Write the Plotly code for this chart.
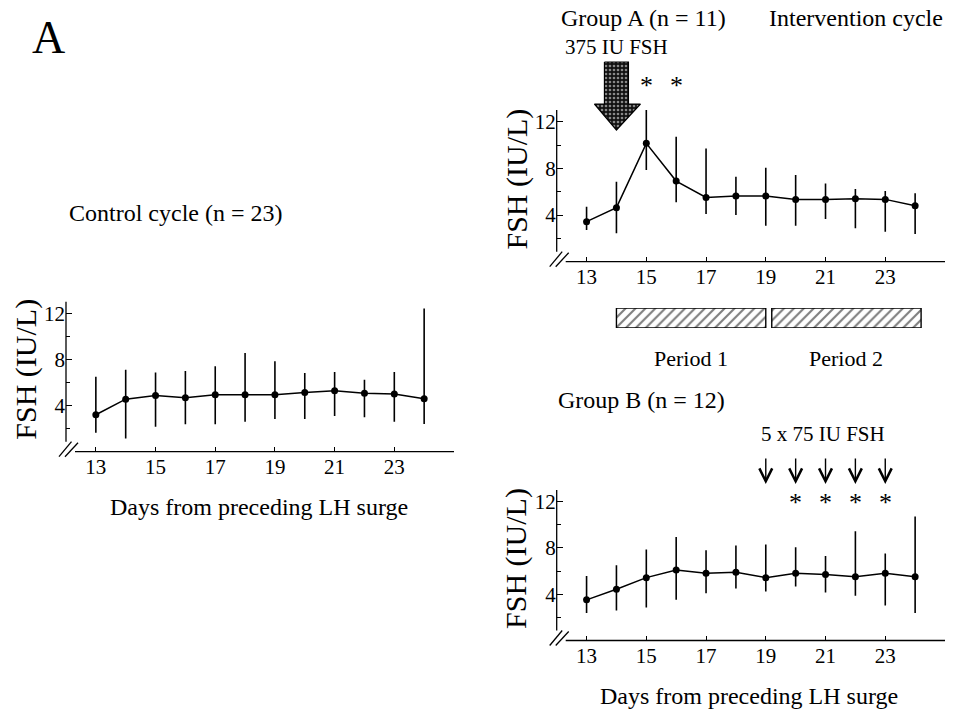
import plotly.graph_objects as go

# ---------------- data ----------------
days = list(range(13, 25))
tick_days = [13, 15, 17, 19, 21, 23]
y_ticks = [4, 8, 12]
y_minor = [2, 6, 10]

control_mean = [3.2, 4.55, 4.87, 4.67, 4.93, 4.93, 4.93, 5.13, 5.28, 5.07, 5.0, 4.58]
control_hi = [6.5, 7.1, 6.87, 7.0, 7.4, 8.56, 7.83, 6.82, 6.9, 6.24, 6.9, 12.4]
control_lo = [1.64, 1.15, 2.17, 2.37, 2.37, 2.6, 2.83, 2.83, 3.1, 2.98, 2.6, 2.4]

a_mean = [3.43, 4.63, 10.14, 6.91, 5.51, 5.63, 5.63, 5.34, 5.34, 5.4, 5.34, 4.8]
a_hi = [4.71, 6.86, 13.06, 10.71, 9.71, 7.29, 8.06, 7.43, 6.71, 6.23, 6.06, 5.86]
a_lo = [2.71, 2.43, 7.86, 5.09, 4.09, 4.0, 3.09, 3.09, 3.66, 2.86, 2.57, 2.37]

b_mean = [3.51, 4.43, 5.43, 6.09, 5.8, 5.89, 5.43, 5.8, 5.71, 5.51, 5.8, 5.51]
b_hi = [5.57, 6.51, 7.86, 8.94, 7.8, 8.2, 8.29, 8.06, 7.29, 9.43, 7.51, 10.71]
b_lo = [2.37, 2.6, 2.86, 3.51, 4.09, 4.49, 4.23, 4.66, 4.14, 3.86, 3.03, 2.37]

a_star_days = [15, 16]
a_dose_day = 14
b_star_days = [20, 21, 22, 23]
b_dose_days = [19, 20, 21, 22, 23]
periods = [(14, 19), (19.2, 24.2)]
period_labels = ["Period 1", "Period 2"]

# ---------------- layout helpers ----------------
W, H = 959, 713
FONT = "Liberation Serif, Times New Roman, serif"
XR = [12, 25]
YR = [0, 13]
CLEAR = "rgba(0,0,0,0)"


def X(px):
    return px / W


def Y(py):
    return 1 - py / H


# panel boxes in pixels: (left, right, top, bottom)
P_CTRL = (66, 454, 301.7, 451.7)
P_A = (556.7, 945, 110, 261.7)
P_B = (556.7, 945, 490, 640.5)

fig = go.Figure()


def add_series(mean, hi, lo, xa, ya):
    fig.add_trace(go.Scatter(
        x=days, y=mean, mode="lines+markers",
        line=dict(color="black", width=1.5),
        marker=dict(color="black", size=7),
        error_y=dict(type="data", symmetric=False,
                     array=[h - m for h, m in zip(hi, mean)],
                     arrayminus=[m - l for m, l in zip(mean, lo)],
                     color="black", thickness=1.6, width=0),
        xaxis=xa, yaxis=ya, showlegend=False, hoverinfo="skip", cliponaxis=False))


add_series(control_mean, control_hi, control_lo, "x", "y")
add_series(a_mean, a_hi, a_lo, "x2", "y2")
add_series(b_mean, b_hi, b_lo, "x3", "y3")


def xaxis_cfg(box, anchor):
    return dict(domain=[X(box[0]), X(box[1])], range=XR, anchor=anchor,
                tickvals=tick_days, ticks="inside", ticklen=5, tickwidth=1.2,
                tickcolor="black", showline=False, showgrid=False, zeroline=False,
                tickfont=dict(family=FONT, size=21, color="black"), fixedrange=True)


def yaxis_cfg(box, anchor):
    return dict(domain=[Y(box[3]), Y(box[2])], range=YR, anchor=anchor,
                tickvals=y_ticks, ticks="inside", ticklen=6, tickwidth=1.2,
                tickcolor="black",
                minor=dict(tickvals=y_minor, ticks="inside", ticklen=4,
                           tickwidth=1, tickcolor="black"),
                showline=False, showgrid=False, zeroline=False,
                tickfont=dict(family=FONT, size=21, color="black"), fixedrange=True)


# period bars (own axes aligned with group A x axis)
for (p0, p1) in periods:
    fig.add_trace(go.Scatter(
        x=[p0, p1, p1, p0, p0], y=[0, 0, 1, 1, 0], mode="lines",
        fill="toself", fillcolor="white",
        fillpattern=dict(shape="/", fgcolor="black", bgcolor="white",
                         size=7, solidity=0.3),
        line=dict(color="black", width=1.4),
        xaxis="x4", yaxis="y4", showlegend=False, hoverinfo="skip"))

# big arrow for the single 375 IU dose (pixel overlay axes)
ax_px = P_A[0] + (a_dose_day - XR[0]) / (XR[1] - XR[0]) * (P_A[1] - P_A[0])
arrow_x = [ax_px - 12, ax_px + 12, ax_px + 12, ax_px + 24, ax_px, ax_px - 22, ax_px - 12, ax_px - 12]
arrow_y = [62, 62, 104, 104, 130, 104, 104, 62]
fig.add_trace(go.Scatter(
    x=arrow_x, y=arrow_y, mode="lines", fill="toself", fillcolor="black",
    fillpattern=dict(shape=".", fgcolor="white", bgcolor="#111111", size=4, solidity=0.35),
    line=dict(color="black", width=1.2),
    xaxis="x5", yaxis="y5", showlegend=False, hoverinfo="skip"))

fig.update_layout(
    width=W, height=H, margin=dict(l=0, r=0, t=0, b=0),
    paper_bgcolor="white", plot_bgcolor=CLEAR,
    font=dict(family=FONT, color="black"),
    xaxis=xaxis_cfg(P_CTRL, "y"), yaxis=yaxis_cfg(P_CTRL, "x"),
    xaxis2=xaxis_cfg(P_A, "y2"), yaxis2=yaxis_cfg(P_A, "x2"),
    xaxis3=xaxis_cfg(P_B, "y3"), yaxis3=yaxis_cfg(P_B, "x3"),
    xaxis4=dict(domain=[X(P_A[0]), X(P_A[1])], range=XR, visible=False, anchor="y4", fixedrange=True),
    yaxis4=dict(domain=[Y(328), Y(308)], range=[0, 1], visible=False, anchor="x4", fixedrange=True),
    xaxis5=dict(domain=[0, 1], range=[0, W], visible=False, anchor="y5", fixedrange=True),
    yaxis5=dict(domain=[0, 1], range=[H, 0], visible=False, anchor="x5", fixedrange=True),
)

# axis lines with break marks
shapes = []
for (l, r, t, b) in (P_CTRL, P_A, P_B):
    lw = 1.3
    shapes.append(dict(type="line", xref="paper", yref="paper",
                       x0=X(l + 9), x1=X(r), y0=Y(b), y1=Y(b), line=dict(color="black", width=lw)))
    shapes.append(dict(type="line", xref="paper", yref="paper",
                       x0=X(l), x1=X(l), y0=Y(b - 10), y1=Y(t), line=dict(color="black", width=lw)))
    shapes.append(dict(type="line", xref="paper", yref="paper",
                       x0=X(l - 7), x1=X(l + 5.5), y0=Y(b + 5), y1=Y(b - 10), line=dict(color="black", width=lw)))
    shapes.append(dict(type="line", xref="paper", yref="paper",
                       x0=X(l - 1), x1=X(l + 12), y0=Y(b + 5), y1=Y(b - 9), line=dict(color="black", width=lw)))
fig.update_layout(shapes=shapes)

ann = []


def text(s, x, y, size, xref="paper", textangle=0, xanchor="center"):
    ann.append(dict(text=s, x=x, y=y, xref=xref, yref="paper", showarrow=False,
                    xanchor=xanchor, yanchor="middle", textangle=textangle,
                    font=dict(family=FONT, size=size, color="black")))


text("A", X(48), Y(38), 46)
text("Control cycle (n = 23)", X(67), Y(213), 24, xanchor="left")
text("Days from preceding LH surge", X(259), Y(507), 24)
text("Group A (n = 11)", X(643), Y(18), 24)
text("Intervention cycle", X(856), Y(18), 24)
text("375 IU FSH", X(616), Y(47), 21)
text("Group B (n = 12)", X(641), Y(400), 24)
text("5 x 75 IU FSH", X(823), Y(434), 21)
text("Days from preceding LH surge", X(749), Y(696), 24)

for box in (P_CTRL, P_A, P_B):
    text("FSH (IU/L)", X(box[0] - 40), Y((box[2] + box[3]) / 2 - 7), 30, textangle=-90)

for d in a_star_days:
    text("*", d, Y(86), 26, xref="x2")
for d in b_star_days:
    text("*", d, Y(503), 26, xref="x3")
for d in b_dose_days:
    ann.append(dict(text="", x=d, y=Y(484), xref="x3", yref="paper",
                    showarrow=True, ax=0, ay=-27, arrowhead=5, arrowsize=1.8,
                    arrowwidth=1.4, arrowcolor="black", standoff=0, startstandoff=0))
for (p0, p1), lab in zip(periods, period_labels):
    text(lab, (p0 + p1) / 2, Y(358), 22, xref="x2")

fig.update_layout(annotations=ann)

fig.write_html("out.html")
